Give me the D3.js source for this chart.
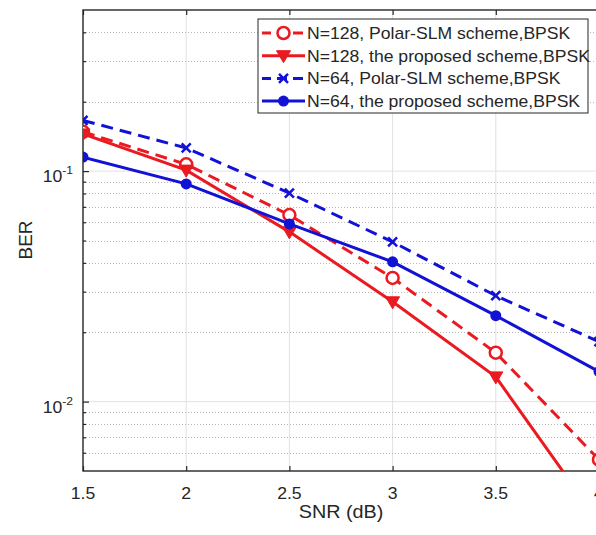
<!DOCTYPE html>
<html>
<head>
<meta charset="utf-8">
<script src="https://cdn.jsdelivr.net/npm/d3@7"></script>
<style>
  body { margin: 0; background: #fff; overflow: hidden; }
  text { font-family: "Liberation Sans", Arial, Helvetica, sans-serif; fill: #262626; }
</style>
</head>
<body>
<div id="chart"></div>
<script>
// SNR values (dB)
const snr = [1.5, 2, 2.5, 3, 3.5, 4];

// BER series
const berPolar128 = [0.148, 0.107, 0.0645, 0.0344, 0.0163, 0.0056];
const berProp128 = [0.145, 0.101, 0.0545, 0.0271, 0.0128, 0.003];
const berPolar64 = [0.166, 0.126, 0.0803, 0.0493, 0.0288, 0.0182];
const berProp64 = [0.115, 0.088, 0.059, 0.0404, 0.0236, 0.0135];

const seriesNames = [
  "N=128, Polar-SLM scheme,BPSK",
  "N=128, the proposed scheme,BPSK",
  "N=64, Polar-SLM scheme,BPSK",
  "N=64, the proposed scheme,BPSK"
];

// axis ticks
const xTicks = [1.5, 2, 2.5, 3, 3.5, 4];
const yMajor = [0.01, 0.1];
const yMinor = [0.006, 0.007, 0.008, 0.009, 0.02, 0.03, 0.04, 0.05, 0.06, 0.07, 0.08, 0.09, 0.2, 0.3, 0.4];

const W = 596, H = 535;
const pLeft = 83, pRight = 599, pTop = 10, pBottom = 471;
const red = "#ea1a20", blue = "#1212d6";

const series = [
  { name: seriesNames[0], values: berPolar128, color: red, dash: "12,7", marker: "circle" },
  { name: seriesNames[1], values: berProp128, color: red, dash: null, marker: "triangle" },
  { name: seriesNames[2], values: berPolar64, color: blue, dash: "12,7", marker: "cross" },
  { name: seriesNames[3], values: berProp64, color: blue, dash: null, marker: "dot" }
];

const svg = d3.select("#chart").append("svg")
  .attr("width", W)
  .attr("height", H)
  .style("background", "#fff");

const x = d3.scaleLinear().domain([1.5, 4]).range([pLeft, pRight]);
const y = d3.scaleLog().domain([0.005, 0.5]).range([pBottom, pTop]);

// grid
const grid = svg.append("g");
grid.selectAll("line.vg")
  .data(xTicks.slice(1))
  .join("line")
  .attr("x1", d => x(d)).attr("x2", d => x(d))
  .attr("y1", pTop).attr("y2", pBottom)
  .attr("stroke", "#e2e2e2").attr("stroke-width", 1);
grid.selectAll("line.hg")
  .data(yMajor)
  .join("line")
  .attr("x1", pLeft).attr("x2", pRight)
  .attr("y1", d => y(d)).attr("y2", d => y(d))
  .attr("stroke", "#e2e2e2").attr("stroke-width", 1);
grid.selectAll("line.mg")
  .data(yMinor)
  .join("line")
  .attr("x1", pLeft).attr("x2", pRight)
  .attr("y1", d => Math.round(y(d)) + 0.5).attr("y2", d => Math.round(y(d)) + 0.5)
  .attr("stroke", "#b8b8b8").attr("stroke-width", 1)
  .attr("stroke-dasharray", "1,2");

// axes with inward ticks
const xAxisB = d3.axisBottom(x).tickValues(xTicks).tickSize(-5).tickFormat("");
const xAxisT = d3.axisTop(x).tickValues(xTicks).tickSize(-5).tickFormat("");
const yAxisL = d3.axisLeft(y).tickValues(yMajor).tickSize(-6).tickFormat("");
const yAxisLm = d3.axisLeft(y).tickValues(yMinor).tickSize(-3).tickFormat("");

function styleAxis(g) {
  g.select(".domain").remove();
  g.selectAll(".tick line").attr("stroke", "#262626").attr("stroke-width", 1.2);
}
svg.append("g").attr("transform", `translate(0,${pBottom})`).call(xAxisB).call(styleAxis);
svg.append("g").attr("transform", `translate(0,${pTop})`).call(xAxisT).call(styleAxis);
svg.append("g").attr("transform", `translate(${pLeft},0)`).call(yAxisL).call(styleAxis);
svg.append("g").attr("transform", `translate(${pLeft},0)`).call(yAxisLm).call(styleAxis);

// axes box
svg.append("rect")
  .attr("x", pLeft).attr("y", pTop)
  .attr("width", pRight - pLeft).attr("height", pBottom - pTop)
  .attr("fill", "none").attr("stroke", "#262626").attr("stroke-width", 1.4);

// tick labels
svg.append("g").selectAll("text")
  .data(xTicks)
  .join("text")
  .attr("transform", d => `translate(${x(d)},499) scale(1.1,1)`)
  .attr("text-anchor", "middle")
  .style("font-size", "16px")
  .text(d => d);

const yl = svg.append("g").selectAll("text")
  .data(yMajor)
  .join("text")
  .attr("transform", d => `translate(73,${y(d) + 11}) scale(1.1,1)`)
  .attr("text-anchor", "end")
  .style("font-size", "16px");
yl.append("tspan").text("10");
yl.append("tspan").attr("dy", -8).style("font-size", "11px").text(d => Math.round(Math.log10(d)));

// axis titles
svg.append("text")
  .attr("transform", `translate(${(pLeft + pRight) / 2},518) scale(1.1,1)`)
  .attr("text-anchor", "middle")
  .style("font-size", "18px")
  .text("SNR (dB)");
svg.append("text")
  .attr("transform", "translate(32,240) rotate(-90)")
  .attr("text-anchor", "middle")
  .style("font-size", "19px")
  .text("BER");

// clip for data
svg.append("clipPath").attr("id", "plotclip")
  .append("rect").attr("x", pLeft).attr("y", pTop).attr("width", pRight - pLeft).attr("height", pBottom - pTop);

const plot = svg.append("g").attr("clip-path", "url(#plotclip)");
const line = d3.line().x((d, i) => x(snr[i])).y(d => y(d));

function drawMarker(g, type, color) {
  if (type === "circle") {
    g.append("circle").attr("r", 6).attr("fill", "#fff").attr("stroke", color).attr("stroke-width", 2.5);
  } else if (type === "triangle") {
    g.append("path").attr("d", "M-7,-5L7,-5L0,7Z").attr("fill", color).attr("stroke", color).attr("stroke-width", 1);
  } else if (type === "cross") {
    g.append("path").attr("d", "M-4.5,-4.5L4.5,4.5M-4.5,4.5L4.5,-4.5").attr("stroke", color).attr("stroke-width", 2.5).attr("fill", "none");
  } else {
    g.append("circle").attr("r", 5.5).attr("fill", color);
  }
}

series.forEach(s => {
  plot.append("path")
    .datum(s.values)
    .attr("d", line)
    .attr("fill", "none")
    .attr("stroke", s.color)
    .attr("stroke-width", 3)
    .attr("stroke-dasharray", s.dash);
  s.values.forEach((v, i) => {
    const m = plot.append("g").attr("transform", `translate(${x(snr[i])},${y(v)})`);
    drawMarker(m, s.marker, s.color);
  });
});

// legend
const lg = svg.append("g");
lg.append("rect")
  .attr("x", 258).attr("y", 19).attr("width", 330).attr("height", 94)
  .attr("fill", "#fff").attr("stroke", "#262626").attr("stroke-width", 1);
series.forEach((s, i) => {
  const cy = 33 + i * 22.7;
  lg.append("line")
    .attr("x1", 262).attr("x2", 305).attr("y1", cy).attr("y2", cy)
    .attr("stroke", s.color).attr("stroke-width", 3)
    .attr("stroke-dasharray", s.dash ? "10,6" : null)
    .attr("stroke-dashoffset", s.dash ? 1 : null);
  const m = lg.append("g").attr("transform", `translate(283.5,${cy})`);
  drawMarker(m, s.marker, s.color);
  lg.append("text")
    .attr("transform", `translate(307,${cy + 6}) scale(1.1,1)`)
    .style("font-size", "16px")
    .text(s.name);
});
</script>
</body>
</html>
